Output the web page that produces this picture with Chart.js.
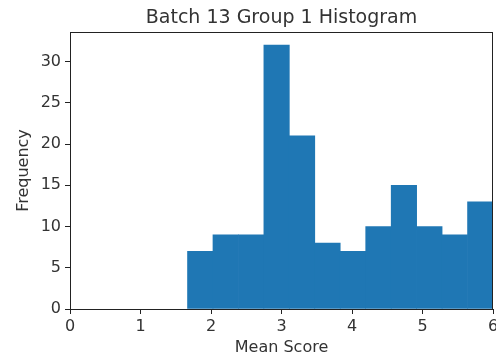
<!DOCTYPE html>
<html>
<head>
<meta charset="utf-8">
<script src="https://cdn.jsdelivr.net/npm/chart.js@4/dist/chart.umd.min.js"></script>
<style>
    html, body { margin: 0; padding: 0; background: #fff; }
    #wrap { width: 496px; height: 354px; }
</style>
</head>
<body>
<div id="wrap"><canvas id="hist"></canvas></div>
<script>
// ----- data -----
const binEdges = [1.667, 2.028, 2.389, 2.750, 3.111, 3.472, 3.833, 4.194, 4.556, 4.917, 5.278, 5.639, 6.0];
const counts   = [7, 9, 9, 32, 21, 8, 7, 10, 15, 10, 9, 13];
const xTicks   = [0, 1, 2, 3, 4, 5, 6];
const yTicks   = [0, 5, 10, 15, 20, 25, 30];

const FONT = "'DejaVu Sans', sans-serif";
const INK = "#333";

// each bar sits at the middle of its bin
const points = counts.map((c, i) => ({ x: (binEdges[i] + binEdges[i + 1]) / 2, y: c }));

// draws the title and the full box round the plot (matplotlib style)
const framePlugin = {
    id: "frame",
    afterDraw(chart) {
        const { ctx, chartArea: a } = chart;
        ctx.save();
        ctx.strokeStyle = "#222";
        ctx.lineWidth = 1;
        ctx.strokeRect(a.left + 0.5, a.top + 0.5, a.right - a.left - 1, a.bottom - a.top);
        ctx.fillStyle = INK;
        ctx.font = "19px " + FONT;
        ctx.textAlign = "center";
        ctx.textBaseline = "middle";
        ctx.fillText("Batch 13 Group 1 Histogram", (a.left + a.right) / 2, 18);
        ctx.restore();
    }
};

new Chart(document.getElementById("hist"), {
    type: "bar",
    data: {
        datasets: [{
            data: points,
            backgroundColor: "#1f77b4",
            borderWidth: 0,
            barPercentage: 1,
            categoryPercentage: 1
        }]
    },
    options: {
        responsive: true,
        maintainAspectRatio: false,
        animation: false,
        layout: { padding: { top: 32, right: 3, left: 0, bottom: 0 } },
        plugins: { legend: { display: false }, tooltip: { enabled: false } },
        scales: {
            x: {
                type: "linear",
                offset: false,
                min: 0, max: 6,
                afterBuildTicks: s => { s.ticks = xTicks.map(v => ({ value: v })); },
                afterFit: s => { s.height = 45; s.paddingLeft = 0; s.paddingRight = 0; },
                grid: { offset: false, drawOnChartArea: false, drawTicks: true, tickLength: 5, color: "#222" },
                border: { display: true, color: "#222" },
                ticks: { color: INK, font: { family: FONT, size: 16 }, padding: 3, maxRotation: 0 },
                title: { display: true, text: "Mean Score", color: INK,
                         font: { family: FONT, size: 16 }, padding: { top: 0, bottom: -3 } }
            },
            y: {
                min: 0, max: 33.6,
                afterBuildTicks: s => { s.ticks = yTicks.map(v => ({ value: v })); },
                afterFit: s => { s.width = 70; },
                grid: { drawOnChartArea: false, drawTicks: true, tickLength: 5, color: "#222" },
                border: { display: true, color: "#222" },
                ticks: { color: INK, font: { family: FONT, size: 16 }, padding: 4 },
                title: { display: true, text: "Frequency", color: INK,
                         font: { family: FONT, size: 16 }, padding: { top: 14, bottom: 0 } }
            }
        }
    },
    plugins: [framePlugin]
});
</script>
</body>
</html>
